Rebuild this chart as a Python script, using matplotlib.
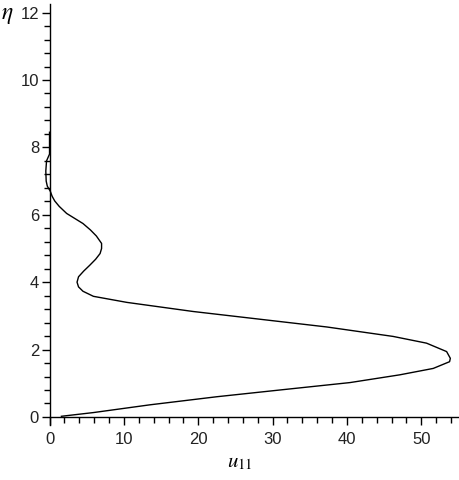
import matplotlib
matplotlib.use("Agg")
import matplotlib.pyplot as plt
from matplotlib.ticker import MultipleLocator

# data (u11 vs eta)
eta = [0.02, 0.13, 0.36, 0.60, 0.81, 1.02, 1.25, 1.44, 1.64, 1.74,
       1.94, 2.19, 2.39, 2.67, 2.90, 3.13, 3.40, 3.58, 3.73, 3.86,
       4.00, 4.16, 4.33, 4.50, 4.68, 4.85, 5.00, 5.15, 5.37, 5.55,
       5.74, 6.04, 6.25, 6.41, 6.55, 6.70, 6.85, 7.00, 7.30, 7.60,
       7.80, 8.45]
u11 = [1.6, 5.9, 13.5, 22.5, 31.4, 40.4, 47.1, 51.6, 53.8, 53.9,
       53.4, 50.7, 46.2, 37.3, 28.3, 19.3, 10.4, 5.9, 4.5, 3.9,
       3.7, 3.9, 4.6, 5.4, 6.2, 6.8, 7.0, 7.0, 6.3, 5.5,
       4.5, 2.3, 1.3, 0.7, 0.35, 0.1, -0.3, -0.45, -0.5, -0.4,
       0.0, 0.0]

x_major = 10
x_minor = 2
y_major = 2
y_minor = 0.4

fig = plt.figure(figsize=(4.6, 4.8), dpi=100)
ax = fig.add_axes([0.0915, 0.1138, 0.9085, 0.8775])
ax.plot(u11, eta, color="black", lw=1.0)

ax.set_xlim(-1.0, 55.2)
ax.set_ylim(-0.25, 12.25)
ax.spines["right"].set_visible(False)
ax.spines["top"].set_visible(False)
ax.spines["bottom"].set_position(("data", 0))
ax.spines["left"].set_position(("data", 0))
ax.spines["bottom"].set_bounds(0, 55.2)
for s in ("bottom", "left"):
    ax.spines[s].set_linewidth(1.0)

ax.xaxis.set_major_locator(MultipleLocator(x_major))
ax.xaxis.set_minor_locator(MultipleLocator(x_minor))
ax.yaxis.set_major_locator(MultipleLocator(y_major))
ax.yaxis.set_minor_locator(MultipleLocator(y_minor))
ax.tick_params(which="major", direction="out", length=5.5, width=1.0,
               labelsize=12, pad=2)
ax.tick_params(which="minor", direction="out", length=4, width=1.0)
ax.tick_params(axis="x", which="major", pad=5)
for lab in ax.get_xticklabels() + ax.get_yticklabels():
    lab.set_family("Liberation Sans")
    lab.set_color("#222222")

fig.text(240 / 460, 1 - 462 / 480, r"$u_{11}$", fontsize=15, ha="center",
         va="center", math_fontfamily="stix")
fig.text(0.003, 1 - 14 / 480, r"$\eta$", fontsize=17, ha="left",
         va="center", math_fontfamily="stix")

fig.savefig("out.png", dpi=100)
